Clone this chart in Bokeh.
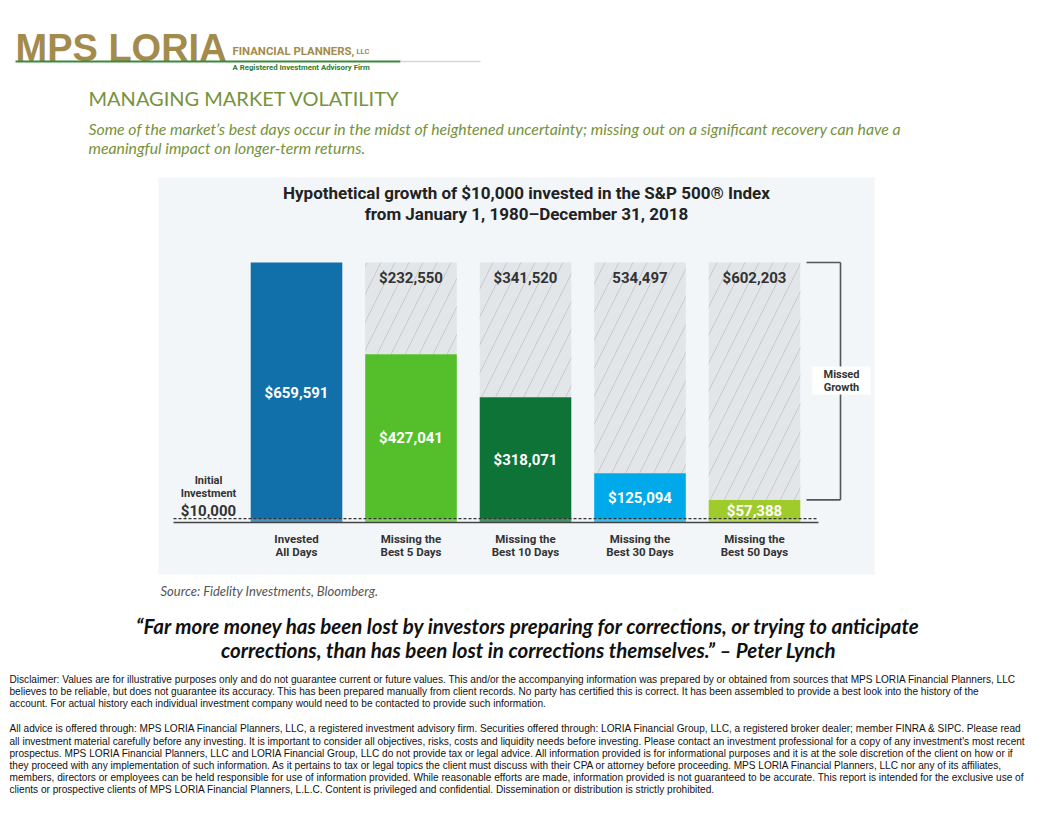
from bokeh.plotting import figure
from bokeh.models import Range1d
from bokeh.core.properties import value
from bokeh.embed import file_html
from bokeh.resources import INLINE

# ---------------- data ----------------
categories = ["Invested\nAll Days", "Missing the\nBest 5 Days", "Missing the\nBest 10 Days",
              "Missing the\nBest 30 Days", "Missing the\nBest 50 Days"]
ending_values = [659591, 427041, 318071, 125094, 57388]
missed_growth = [0, 232550, 341520, 534497, 602203]
value_labels = ["$659,591", "$427,041", "$318,071", "$125,094", "$57,388"]
missed_labels = ["", "$232,550", "$341,520", "534,497", "$602,203"]
initial_investment = 10000
initial_label = "$10,000"
bar_colors = ["#1170aa", "#55bf2b", "#0d7337", "#00a9e9", "#9fcb2d"]

chart_title = ["Hypothetical growth of $10,000 invested in the S&P 500® Index",
               "from January 1, 1980–December 31, 2018"]
page_title = "MANAGING MARKET VOLATILITY"
subtitle = ["Some of the market’s best days occur in the midst of heightened uncertainty; missing out on a significant recovery can have a",
            "meaningful impact on longer-term returns."]
source = "Source: Fidelity Investments, Bloomberg."
quote = ["“Far more money has been lost by investors preparing for corrections, or trying to anticipate",
         "corrections, than has been lost in corrections themselves.” – Peter Lynch"]
disclaimer_1 = [
    "Disclaimer:  Values are for illustrative purposes only and do not guarantee current or future values.  This and/or the accompanying information was prepared by or obtained from sources that MPS LORIA Financial Planners, LLC",
    "believes to be reliable, but does not guarantee its accuracy.   This has been prepared manually from client records.  No party has certified this is correct.  It has been assembled to provide a best look into the history of the",
    "account.  For actual history each individual investment company would need to be contacted to provide such information.",
]
disclaimer_2 = [
    "All advice is offered through: MPS LORIA Financial Planners, LLC, a registered investment advisory firm. Securities offered through: LORIA Financial Group, LLC, a registered broker dealer; member FINRA & SIPC. Please read",
    "all investment material carefully before any investing. It is important to consider all objectives, risks, costs and liquidity needs before investing. Please contact an investment professional for a copy of any investment's most recent",
    "prospectus.  MPS LORIA Financial Planners, LLC and LORIA Financial Group, LLC do not provide tax or legal advice.  All information provided is for informational purposes and it is at the sole discretion of the client on how or if",
    "they proceed with any implementation of such information.  As it pertains to tax or legal topics the client must discuss with their CPA or attorney before proceeding.  MPS LORIA Financial Planners, LLC nor any of its affiliates,",
    "members, directors or employees can be held responsible for use of information provided. While reasonable efforts are made, information provided is not guaranteed to be accurate. This report is intended for the exclusive use of",
    "clients or prospective clients of MPS LORIA Financial Planners, L.L.C.  Content is privileged and confidential.  Dissemination or distribution is strictly prohibited.",
]

# ---------------- layout constants (screen pixels) ----------------
W, H = 1040, 800
PX0, PX1, PY0, PY1 = 0, W, 0, H
X0, DX = 296.0, 114.5          # x of first category centre, spacing
Y0, USD_PER_PX = 522.0, 2537.0  # y of $0, dollars per pixel
BAR_W = 0.80

p = figure(width=W, height=H, output_backend="svg", toolbar_location=None,
           x_range=Range1d(PX0, PX1), y_range=Range1d(PY1, PY0),
           min_border=0, background_fill_color="white", border_fill_color="white")
p.axis.visible = False
p.grid.visible = False
p.outline_line_color = None
p.extra_x_ranges = {"cat": Range1d((PX0 - X0) / DX, (PX1 - X0) / DX)}
p.extra_y_ranges = {"usd": Range1d((Y0 - PY1) * USD_PER_PX, (Y0 - PY0) * USD_PER_PX)}
D = dict(x_range_name="cat", y_range_name="usd")

LATO = value("Lato")
ROB = value("Roboto")

# ---------------- header ----------------
p.text(x=[15], y=[47], text=["MPS LORIA"], text_font=value("Liberation Sans"), text_font_style="bold",
       text_font_size="38px", text_color="#a38b4c", text_baseline="middle")
p.text(x=[232], y=[50], text=["FINANCIAL PLANNERS,"], text_font=ROB, text_font_style="bold",
       text_font_size="11.4px", text_color="#a38b4c", text_baseline="middle")
p.text(x=[356], y=[51], text=["LLC"], text_font=ROB, text_font_style="bold",
       text_font_size="7.5px", text_color="#a38b4c", text_baseline="middle")
p.segment(x0=[15], x1=[400], y0=[61], y1=[61], line_color="#3a8a3a", line_width=2)
p.segment(x0=[400], x1=[480], y0=[61], y1=[61], line_color="#d6d6d6", line_width=1.5)
p.text(x=[232], y=[66.5], text=["A Registered Investment Advisory Firm"], text_font=ROB,
       text_font_style="bold", text_font_size="7.8px", text_color="#2e7d32", text_baseline="middle")

p.text(x=[88], y=[97], text=[page_title], text_font=LATO, text_font_size="20px",
       text_color="#76923c", text_baseline="middle")
p.text(x=[88, 88], y=[128, 147], text=subtitle, text_font=LATO, text_font_style="italic",
       text_font_size="15.8px", text_color="#76923c", text_baseline="middle")

# ---------------- chart panel ----------------
p.quad(left=[158], right=[874], top=[177], bottom=[574], fill_color="#f3f6f9", line_color=None)
p.text(x=[526, 526], y=[192, 213], text=chart_title, text_font=ROB, text_font_style="bold",
       text_font_size="17px", text_color="#222222", text_align="center", text_baseline="middle")

idx = list(range(len(categories)))
tops = [v + m for v, m in zip(ending_values, missed_growth)]

p.vbar(x=idx[1:], width=BAR_W, bottom=ending_values[1:], top=tops[1:], fill_color="#e3e6e9",
       hatch_pattern="/", hatch_color="#c6cacd", hatch_scale=28, hatch_weight=1,
       line_color=None, **D)
p.vbar(x=idx, width=BAR_W, bottom=0, top=ending_values, fill_color=bar_colors, line_color=None, **D)
p.vbar(x=idx, width=BAR_W, bottom=0, top=initial_investment, fill_color="white", fill_alpha=0.25,
       line_color=None, **D)

line_left, line_right = (173 - X0) / DX, (818 - X0) / DX
p.segment(x0=[line_left], x1=[line_right], y0=[0], y1=[0], line_color="#444444", line_width=1.6, **D)
p.segment(x0=[line_left], x1=[line_right], y0=[initial_investment], y1=[initial_investment],
          line_color="#333333", line_width=1.2, line_dash="3 2", **D)

p.text(x=idx, y=[v / 2 for v in ending_values], text=value_labels, text_font=ROB,
       text_font_style="bold", text_font_size="15px", text_color="white",
       text_align="center", text_baseline="middle", **D)
p.text(x=idx[1:], y=tops[1:], y_offset=15, text=missed_labels[1:], text_font=ROB,
       text_font_style="bold", text_font_size="15px", text_color="#333333",
       text_align="center", text_baseline="middle", **D)
p.text(x=idx, y=[0] * len(idx), y_offset=9, text=categories, text_font=ROB,
       text_font_style="bold", text_font_size="11.5px", text_color="#333333",
       text_align="center", text_baseline="top", text_line_height=0.95, **D)

# initial investment label
p.text(x=[208], y=[486], text=["Initial\nInvestment"], text_font=ROB, text_font_style="bold",
       text_font_size="11px", text_color="#333333", text_align="center", text_baseline="middle",
       text_line_height=1.0)
p.text(x=[208], y=[510], text=[initial_label], text_font=ROB, text_font_style="bold",
       text_font_size="15px", text_color="#333333", text_align="center", text_baseline="middle")

# missed growth bracket
bx, bt = (840 - X0) / DX, (806 - X0) / DX
p.segment(x0=[bx, bt, bt], x1=[bx, bx, bx], y0=[ending_values[-1], tops[-1], ending_values[-1]],
          y1=[tops[-1], tops[-1], ending_values[-1]], line_color="#555555", line_width=1.6, **D)
p.quad(left=[812], right=[870], top=[366], bottom=[394], fill_color="white", line_color=None)
p.text(x=[841], y=[380], text=["Missed\nGrowth"], text_font=ROB, text_font_style="bold",
       text_font_size="11px", text_color="#333333", text_align="center", text_baseline="middle",
       text_line_height=1.0)

# ---------------- footer ----------------
p.text(x=[160], y=[590], text=[source], text_font=LATO, text_font_style="italic",
       text_font_size="13px", text_color="#555555", text_baseline="middle")
p.text(x=[528, 528], y=[625, 649], text=quote, text_font=LATO, text_font_style="bold italic",
       text_font_size="20.5px", text_color="#111111", text_align="center", text_baseline="middle")
p.text(x=[9] * 3, y=[679, 691, 703], text=disclaimer_1, text_font=value("Liberation Sans"),
       text_font_size="10.1px", text_color="#111111", text_baseline="middle")
p.text(x=[9] * 6, y=[728, 740.5, 752.7, 765, 777, 789], text=disclaimer_2,
       text_font=value("Liberation Sans"), text_font_size="10.1px", text_color="#111111",
       text_baseline="middle")

open("out.html", "w").write(file_html(p, INLINE))
